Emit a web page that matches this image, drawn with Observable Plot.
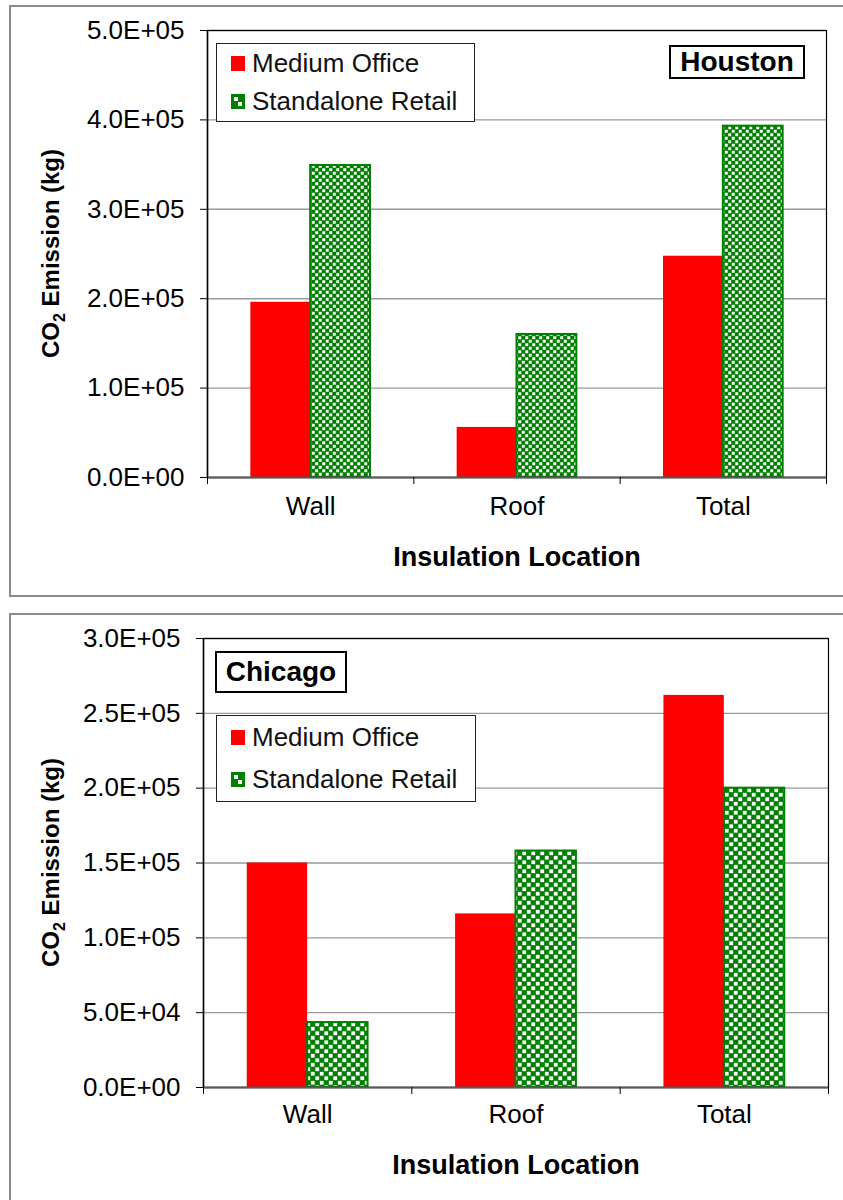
<!DOCTYPE html>
<html>
<head>
<meta charset="utf-8">
<script src="https://cdn.jsdelivr.net/npm/d3@7"></script>
<script src="https://cdn.jsdelivr.net/npm/@observablehq/plot@0.6"></script>
<style>
  html, body { margin: 0; padding: 0; background: #fff; }
  body { width: 843px; height: 1200px; overflow: hidden; position: relative;
         font-family: "Liberation Sans", Arial, sans-serif; color: #000; }
  .chart { position: absolute; left: 0; }
  .panel { position: absolute; left: 9px; width: 900px; box-sizing: border-box;
           border: 2.3px solid #8c8c8c; pointer-events: none; }
  .legend { position: absolute; box-sizing: border-box; border: 1.5px solid #222;
            background: #fff; padding-left: 14px; }
  .row { display: flex; align-items: center; font-size: 26px; color: #111; white-space: nowrap; }
  .sw { width: 14px; height: 15px; box-sizing: border-box; margin-right: 7px; flex: none; }
  .office { background: #ff0000; }
  .retail { background-color: #008000;
            background-image: linear-gradient(#fff, #fff), linear-gradient(#fff, #fff);
            background-size: 4px 4px, 4px 4px; background-repeat: no-repeat;
            background-position: 3px 3px, 7px 8px; }
  .city { position: absolute; box-sizing: border-box; border: 2px solid #000; background: #fff;
          font-weight: bold; font-size: 28px; display: flex; align-items: center; justify-content: center; }
</style>
</head>
<body>
<div class="panel" style="top:5px;height:592px"></div>
<div class="panel" style="top:613px;height:700px"></div>
<div id="houston" class="chart" style="top:0"></div>
<div id="chicago" class="chart" style="top:608px"></div>

<script>
// Categories and series
const locations = ["Wall", "Roof", "Total"];
const buildings = ["Medium Office", "Standalone Retail"];

// CO2 emission savings (kg)
const houstonOffice = [196000, 56000, 247500];
const houstonRetail = [349000, 160000, 393000];
const chicagoOffice = [150000, 116000, 262000];
const chicagoRetail = [43400, 158000, 200000];

// Y-axis ticks
const houstonTicks = [0, 100000, 200000, 300000, 400000, 500000];
const chicagoTicks = [0, 50000, 100000, 150000, 200000, 250000, 300000];

const FONT = '"Liberation Sans", Arial, sans-serif';
const OFFICE_RED = "#ff0000";
const RETAIL_GREEN = "#008000";

// Spreadsheet-style scientific notation: 2.5E+05
function sci(v) {
  if (v === 0) return "0.0E+00";
  const e = Math.floor(Math.log10(v) + 1e-9);
  return `${(v / 10 ** e).toFixed(1)}E+${String(e).padStart(2, "0")}`;
}

function drawPanel({office, retail, ticks, height, margins, labelPad, titleDy, patternId, patternSize}) {
  const rows = locations.flatMap((loc, i) => [
    {loc, i, building: buildings[0], value: office[i]},
    {loc, i, building: buildings[1], value: retail[i]}
  ]);
  const gap = 0.21; // empty share of each category slot on either side of the bar pair
  const isOffice = d => d.building === buildings[0];

  const chart = Plot.plot({
    width: 843,
    height,
    ...margins,
    style: {background: "transparent", fontFamily: FONT, fontSize: "26px", color: "#000", overflow: "visible"},
    x: {domain: [0, locations.length]},
    y: {domain: [0, ticks[ticks.length - 1]]},
    marks: [
      Plot.gridY(ticks, {stroke: "#9a9a9a", strokeOpacity: 1, strokeWidth: 1.4}),
      Plot.rectY(rows.filter(isOffice), {
        x1: d => d.i + gap, x2: d => d.i + 0.5, y1: 0, y2: "value",
        fill: OFFICE_RED
      }),
      Plot.rectY(rows.filter(d => !isOffice(d)), {
        x1: d => d.i + 0.5, x2: d => d.i + 1 - gap, y1: 0, y2: "value",
        fill: `url(#${patternId})`, stroke: RETAIL_GREEN, strokeWidth: 2
      }),
      Plot.frame({stroke: "#000", strokeWidth: 1.2}),
      Plot.ruleY([0], {stroke: "#595959", strokeWidth: 2}),
      Plot.ruleX([0], {stroke: "#000", strokeWidth: 1.5}),
      Plot.axisY(ticks, {tickSize: 7, tickPadding: 16, tickFormat: sci, fontSize: 26, label: null, stroke: "#000"}),
      Plot.axisX(d3.range(locations.length + 1), {tickSize: 7, tickFormat: () => "", label: null, stroke: "#000"}),
      Plot.axisX(locations.map((d, i) => i + 0.5), {
        tickSize: 0, tickPadding: labelPad, fontSize: 26, label: null,
        tickFormat: v => locations[Math.floor(v)]
      }),
      Plot.text(["Insulation Location"], {frameAnchor: "bottom", dy: titleDy, fontWeight: "bold", fontSize: 27})
    ]
  });

  // Checkerboard fill for the retail bars
  const svg = d3.select(chart);
  const defs = svg.insert("defs", ":first-child");
  const p = patternSize;
  const pat = defs.append("pattern").attr("id", patternId)
    .attr("patternUnits", "userSpaceOnUse").attr("width", p).attr("height", p);
  pat.append("rect").attr("width", p).attr("height", p).attr("fill", RETAIL_GREEN);
  const w = p * 0.42;
  pat.append("rect").attr("x", (p / 2 - w) / 2).attr("y", (p / 2 - w) / 2)
    .attr("width", w).attr("height", w).attr("fill", "#fff");
  pat.append("rect").attr("x", p / 2 + (p / 2 - w) / 2).attr("y", p / 2 + (p / 2 - w) / 2)
    .attr("width", w).attr("height", w).attr("fill", "#fff");

  // Y-axis title with subscript
  const yr = chart.scale("y").range;
  const cy = (yr[0] + yr[1]) / 2;
  const t = svg.append("text")
    .attr("transform", `translate(59,${cy}) rotate(-90)`)
    .attr("text-anchor", "middle")
    .attr("font-family", FONT).attr("font-weight", "bold").attr("font-size", 24).attr("fill", "#000");
  t.append("tspan").text("CO");
  t.append("tspan").attr("dy", 6).attr("font-size", 16).text("2");
  t.append("tspan").attr("dy", -6).text(" Emission (kg)");
  return chart;
}

function legend(container, {left, top, width, rowHeight}) {
  const box = document.createElement("div");
  box.className = "legend";
  Object.assign(box.style, {left: left + "px", top: top + "px", width: width + "px", height: (rowHeight * 2 + 3) + "px"});
  buildings.forEach((b, k) => {
    const row = document.createElement("div");
    row.className = "row";
    row.style.height = rowHeight + "px";
    const sw = document.createElement("span");
    sw.className = "sw " + (k === 0 ? "office" : "retail");
    const label = document.createElement("span");
    label.textContent = b;
    row.append(sw, label);
    box.append(row);
  });
  container.append(box);
}

function cityBox(container, name, {left, top, width, height}) {
  const box = document.createElement("div");
  box.className = "city";
  Object.assign(box.style, {left: left + "px", top: top + "px", width: width + "px", height: height + "px"});
  box.textContent = name;
  container.append(box);
}

const houston = document.getElementById("houston");
houston.append(drawPanel({
  office: houstonOffice, retail: houstonRetail, ticks: houstonTicks,
  height: 600, margins: {marginTop: 30, marginLeft: 207, marginRight: 17, marginBottom: 123},
  labelPad: 19, titleDy: 88, patternId: "retailCheckHouston", patternSize: 7
}));
legend(houston, {left: 216, top: 43, width: 259, rowHeight: 38});
cityBox(houston, "Houston", {left: 669, top: 45, width: 136, height: 34});

const chicago = document.getElementById("chicago");
chicago.append(drawPanel({
  office: chicagoOffice, retail: chicagoRetail, ticks: chicagoTicks,
  height: 592, margins: {marginTop: 30, marginLeft: 203, marginRight: 15, marginBottom: 113},
  labelPad: 17, titleDy: 86, patternId: "retailCheckChicago", patternSize: 9
}));
legend(chicago, {left: 216, top: 715 - 608, width: 260, rowHeight: 42});
cityBox(chicago, "Chicago", {left: 215, top: 651 - 608, width: 132, height: 42});
</script>
</body>
</html>
